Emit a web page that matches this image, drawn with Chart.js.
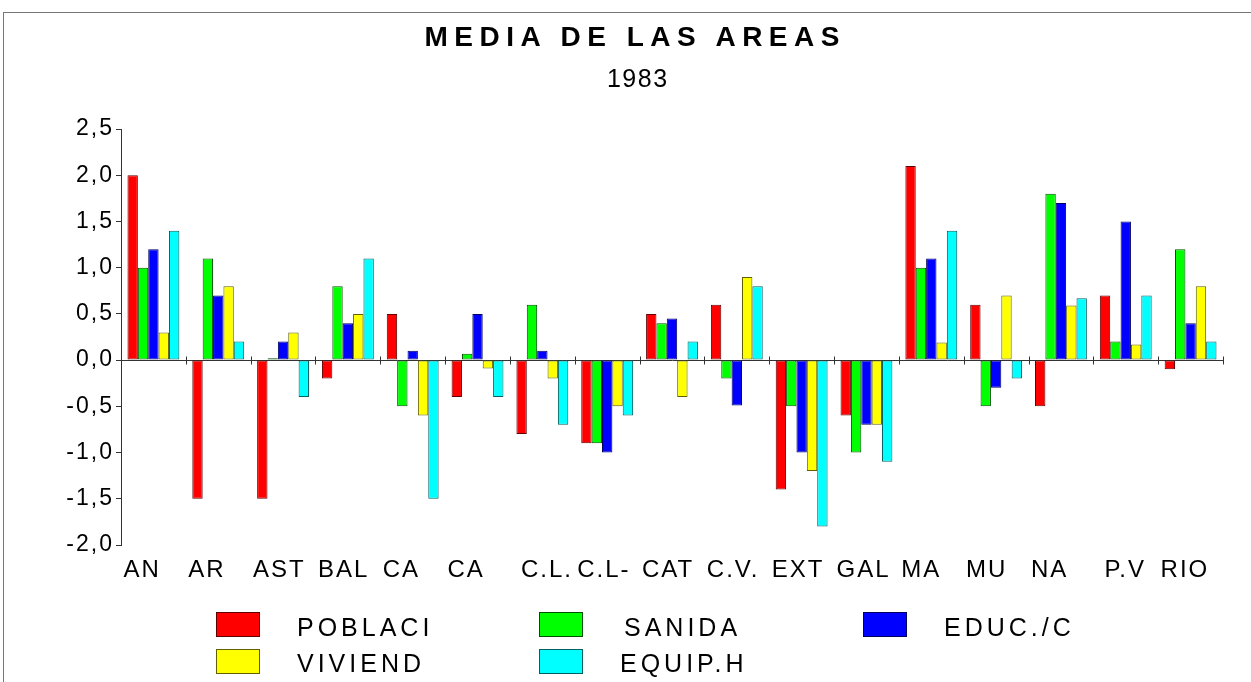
<!DOCTYPE html>
<html><head><meta charset="utf-8">
<script src="https://cdn.jsdelivr.net/npm/chart.js@4.4.1/dist/chart.umd.min.js"></script>
<style>
html,body{margin:0;padding:0;background:#fff;}
body{width:1251px;height:682px;position:relative;overflow:hidden;font-family:"Liberation Sans",Arial,sans-serif;color:#000;}
#frame{position:absolute;left:3px;top:12px;width:1248px;height:670px;border-top:1px solid #777;border-left:1px solid #777;pointer-events:none;}
#c{position:absolute;left:0;top:0;}
.title{position:absolute;left:132px;width:1000px;box-sizing:border-box;text-align:center;white-space:pre;}
#t1{top:23px;font-size:28px;line-height:28px;font-weight:bold;letter-spacing:6.5px;padding-left:6.5px;}
#t2{top:66px;font-size:25px;line-height:25px;letter-spacing:1.5px;padding-left:11.5px;}
.lbox{position:absolute;width:44px;height:25px;box-sizing:border-box;border:1px solid #000;}
.ltxt{position:absolute;font-size:25px;line-height:25px;letter-spacing:4px;white-space:pre;}
</style>
</head><body>
<canvas id="c" width="1251" height="682"></canvas>
<div id="frame"></div>
<div class="title" id="t1">MEDIA DE LAS AREAS</div>
<div class="title" id="t2">1983</div>
<div id="legend"></div>
<script>
const categories = ['AN','AR','AST','BAL','CA','CA',' C.L.','C.L-','CAT','C.V.','EXT','GAL','MA','MU','NA',' P.V','RIO'];
const seriesNames = ['POBLACI','SANIDA','EDUC./C','VIVIEND','EQUIP.H'];
const poblaci = [2.0,-1.5,-1.5,-0.2,0.5,-0.4,-0.8,-0.9,0.5,0.6,-1.4,-0.6,2.1,0.6,-0.5,0.7,-0.1];
const sanida  = [1.0,1.1,0.02,0.8,-0.5,0.07,0.6,-0.9,0.4,-0.2,-0.5,-1.0,1.0,-0.5,1.8,0.2,1.2];
const educ    = [1.2,0.7,0.2,0.4,0.1,0.5,0.1,-1.0,0.45,-0.49,-1.0,-0.7,1.1,-0.3,1.7,1.5,0.4];
const viviend = [0.3,0.8,0.3,0.5,-0.6,-0.09,-0.2,-0.5,-0.4,0.9,-1.2,-0.7,0.19,0.7,0.59,0.17,0.8];
const equip   = [1.4,0.2,-0.4,1.1,-1.5,-0.4,-0.7,-0.6,0.2,0.8,-1.8,-1.1,1.4,-0.2,0.67,0.7,0.2];
const yTickLabels = ['-2,0','-1,5','-1,0','-0,5','0,0','0,5','1,0','1,5','2,0','2,5'];

const fills = ['#ff0000','#00ff00','#0000ff','#ffff00','#00ffff'];
const edges = ['#600000','#005000','#000060','#606000','#006060'];
const seriesData = [poblaci, sanida, educ, viviend, equip];
const FONT = '"Liberation Sans", Arial, sans-serif';

const spacing = {
  id:'spacing',
  beforeUpdate(c){ c.ctx.letterSpacing = '2px'; },
  beforeDraw(c){ c.ctx.letterSpacing = '2px'; }
};
const boundaryTicks = {
  id:'boundaryTicks',
  afterDatasetsDraw(c){
    const xs = c.scales.x, ys = c.scales.y, ctx = c.ctx;
    const y0 = Math.round(ys.getPixelForValue(0)) + 0.5;
    ctx.save();
    ctx.strokeStyle = '#333'; ctx.lineWidth = 1;
    for (let i = 1; i <= categories.length; i++) {
      const px = i < categories.length ? (xs.getPixelForTick(i-1) + xs.getPixelForTick(i)) / 2 : xs.right;
      const xx = Math.round(px) + 0.5;
      ctx.beginPath(); ctx.moveTo(xx, y0 - 4); ctx.lineTo(xx, y0 + 4); ctx.stroke();
    }
    ctx.restore();
  }
};

new Chart(document.getElementById('c'), {
  type:'bar',
  data:{
    labels: categories,
    datasets: seriesNames.map((n,i)=>({
      label:n, data:seriesData[i], backgroundColor:fills[i], borderColor:edges[i],
      borderWidth:1, borderSkipped:false, categoryPercentage:0.8, barPercentage:1.0
    }))
  },
  options:{
    responsive:false, animation:false, devicePixelRatio:1,
    layout:{padding:{top:129,left:0,right:28,bottom:97}},
    plugins:{legend:{display:false}, tooltip:{enabled:false}, title:{display:false}},
    scales:{
      x:{
        offset:true,
        grid:{display:false}, border:{display:false},
        ticks:{align:'start', labelOffset:-30, padding:3, autoSkip:false, maxRotation:0, minRotation:0,
               color:'#000', font:{family:FONT, size:24}},
        afterFit(s){ s.height = 40; s.paddingLeft = 0; s.paddingRight = 0; }
      },
      y:{
        min:-2, max:2.5,
        ticks:{stepSize:0.5, padding:2, color:'#000', font:{family:FONT, size:23},
               callback:(v,i)=>yTickLabels[i]},
        grid:{drawOnChartArea:true, color:(ctx)=> (ctx.tick && ctx.tick.value===0) ? '#333' : 'rgba(0,0,0,0)',
              tickColor:'#333', tickLength:5, lineWidth:1},
        border:{display:true, color:'#333', width:1},
        afterFit(s){ s.width = 121; }
      }
    }
  },
  plugins:[spacing, boundaryTicks]
});

const legendPos = [[216,612,297,615],[539,612,624,615],[863,612,944,615],[216,649,297,651],[539,649,620,651]];
const lg = document.getElementById('legend');
seriesNames.forEach((n,i)=>{
  const b = document.createElement('div');
  b.className='lbox'; b.style.left=legendPos[i][0]+'px'; b.style.top=legendPos[i][1]+'px';
  b.style.background=fills[i]; b.style.borderColor=edges[i];
  lg.appendChild(b);
  const t = document.createElement('div');
  t.className='ltxt'; t.style.left=legendPos[i][2]+'px'; t.style.top=legendPos[i][3]+'px';
  t.textContent=n;
  lg.appendChild(t);
});
</script>
</body></html>
